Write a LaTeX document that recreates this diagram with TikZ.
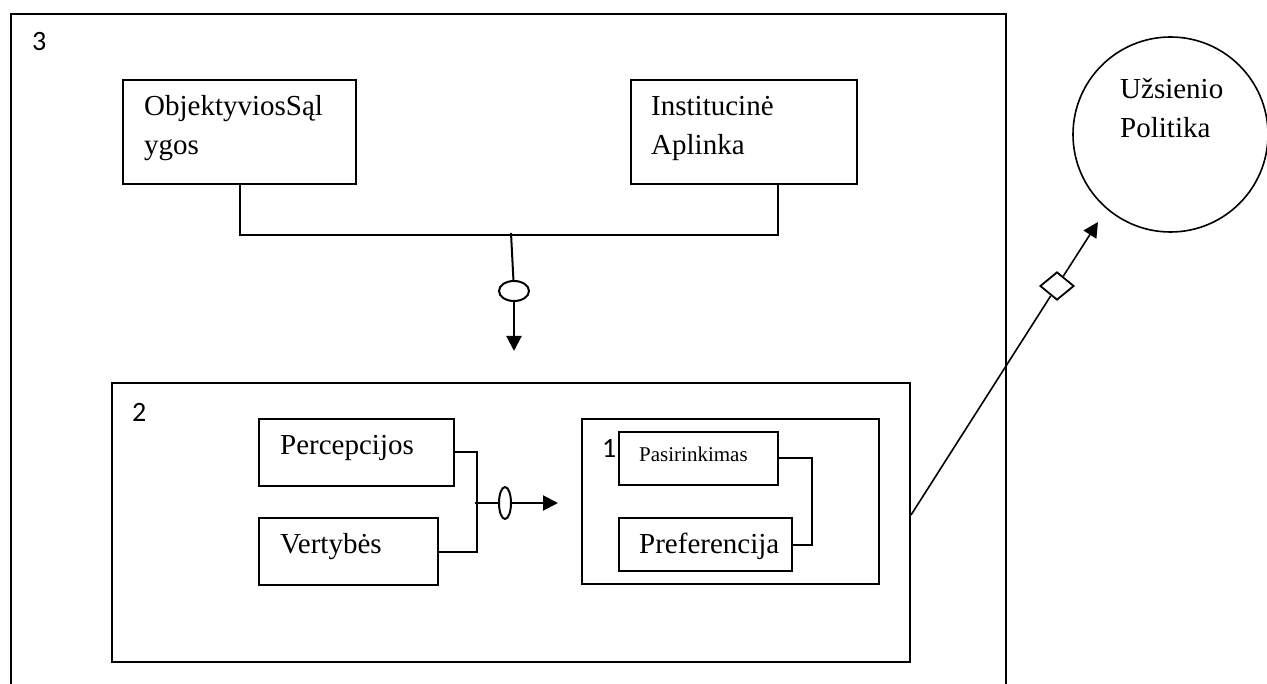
\documentclass[tikz,border=0pt]{standalone}
\usepackage{fontspec}
\setmainfont{Liberation Serif}
\newfontfamily\numfont{Carlito}
\usetikzlibrary{calc,shapes.geometric,arrows.meta}
\tikzset{
x=1pt,y=-1pt,
box/.style={rectangle,draw=black,line width=2pt,inner sep=0pt,anchor=north west},
txt/.style={inner sep=0pt,anchor=base west,align=left,font=\fontsize{29}{39}\selectfont},
smalltxt/.style={inner sep=0pt,anchor=base west,font=\fontsize{21}{26}\selectfont},
num/.style={inner sep=0pt,anchor=north west,font=\numfont\fontsize{28}{30}\selectfont},
link/.style={line width=2pt,draw=black},
arr/.style={link,-{Triangle[length=15pt,width=15pt]}},
}
\tikzstyle{oval} = [ellipse, draw=black, line width=2pt, inner sep=0pt]
\begin{document}
\begin{tikzpicture}
\path[use as bounding box,clip] (0,0) rectangle (1267,684);
\node[box,minimum width=995,minimum height=720] (outer) at (10,13) {};
\node[num] (lab3) at (32,32) {3};
\node[box,minimum width=233,minimum height=104] (obj) at (122,79) {};
\node[txt] (objtxt) at (144,155) {ObjektyviosSąl\\ygos};
\node[box,minimum width=226,minimum height=104] (inst) at (630,79) {};
\node[txt] (insttxt) at (651,155) {Institucinė\\Aplinka};
\coordinate (join) at (511,233);
\draw[link] (obj.south) |- ($(inst.south)+(34,50)$) -- ($(inst.south)+(34,0)$);
\node[oval,minimum width=30,minimum height=20] (ell1) at (514,291) {};
\coordinate (tip1) at (514,351);
\draw[link] (join) -- (ell1);
\draw[arr] (ell1) -- (tip1);
\node[box,minimum width=798,minimum height=279] (box2) at (111,382) {};
\node[num] (lab2) at (132,403) {2};
\node[box,minimum width=195,minimum height=67] (perc) at (258,418) {};
\node[txt] (perctxt) at (280,455) {Percepcijos};
\node[box,minimum width=179,minimum height=67] (vert) at (258,517) {};
\node[txt] (verttxt) at (280,553) {Vertybės};
\draw[link] (perc.east) -- ++(22,0) |- (vert.east);
\coordinate (fork) at (475,503);
\node[oval,minimum width=12,minimum height=32] (ell2) at (505,503) {};
\coordinate (tip2) at (558,503);
\draw[link] (fork) -- (ell2);
\draw[arr] (ell2) -- (tip2);
\node[box,minimum width=297,minimum height=165] (box1) at (581,418) {};
\node[num] (lab1) at (602,439) {1};
\node[box,minimum width=159,minimum height=53] (pasir) at (618,431) {};
\node[smalltxt] (pasirtxt) at (639,462) {Pasirinkimas};
\node[box,minimum width=173,minimum height=53] (pref) at (618,517) {};
\node[txt] (preftxt) at (639,553) {Preferencija};
\draw[link] (pasir.east) -- ++(33,0) |- (pref.east);
\node[circle,draw=black,line width=1.6pt,minimum size=195,inner sep=0pt] (pol) at (1170.5,134.5) {};
\node[txt] (poltxt) at (1120,138) {Užsienio\\Politika};
\coordinate (start) at ($(box2.north east)+(0,133)$);
\node[diamond,draw=black,line width=1.8pt,minimum width=34,minimum height=28,inner sep=0pt] (dia) at (1057,286) {};
\coordinate (tip3) at (1098,222);
\draw[link,line width=1.6pt] (start) -- (dia);
\draw[arr,line width=1.6pt] (dia) -- (tip3);
\end{tikzpicture}
\end{document}
